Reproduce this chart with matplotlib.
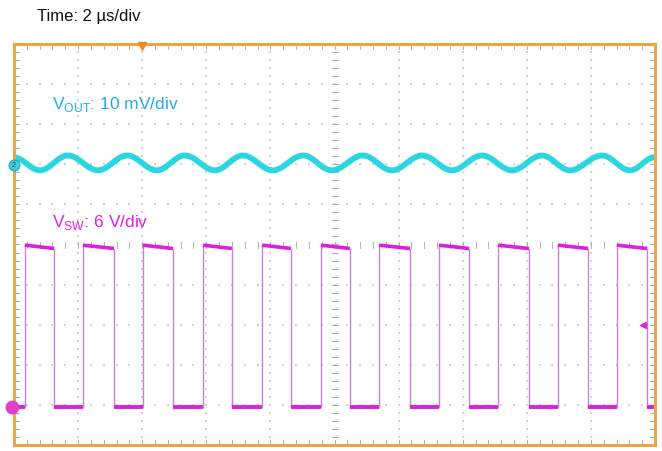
import numpy as np
import matplotlib.pyplot as plt

plt.rcParams['font.family'] = ['Liberation Sans', 'DejaVu Sans']
plt.rcParams['mathtext.fontset'] = 'custom'
plt.rcParams['mathtext.rm'] = 'Liberation Sans'

# scope settings (10 x 10 divisions)
us_per_div = 2.0
vout_mv_per_div = 10.0
vsw_v_per_div = 6.0
vout_ref_div = 1.98     # ch2 marker position
vsw_ref_div = -4.05     # ch1 marker position
trig_time_us = -6.0
trig_level_div = -2.0

# switch node edges (us)
rise_us = [-9.66, -7.85, -5.98, -4.10, -2.26, -0.42, 1.39, 3.26, 5.10, 6.97, 8.81]
fall_us = [-8.75, -6.88, -5.04, -3.20, -1.36, 0.48, 2.36, 4.20, 6.07, 7.91, 9.75]
vsw_high_start = 24.2   # V, start of on-time
vsw_high_end = 23.7     # V, end of on-time (droop)
vsw_low = 0.0

# output ripple peaks / troughs (us, mV about ch2 reference)
ripple_t = [-10.0, -9.19, -8.32, -7.38, -6.47, -5.54, -4.67, -3.73, -2.86, -1.92, -0.98,
            -0.08, 0.89, 1.79, 2.73, 3.67, 4.60, 5.54, 6.47, 7.35, 8.35, 9.22, 10.0]
ripple_mv = [1.9, -1.3, 2.4, -1.3, 2.4, -1.3, 2.4, -1.3, 2.4, -1.3, 2.4,
             -1.3, 2.4, -1.3, 2.4, -1.3, 2.4, -1.3, 2.4, -1.3, 2.4, -1.3, 2.0]

W, H = 662, 451
fig = plt.figure(figsize=(W / 100, H / 100), dpi=100)
ax = fig.add_axes([14 / W, 6 / H, 641 / W, 401 / H])
ax.set_xlim(-10, 10)
ax.set_ylim(-5, 5)
ax.set_xticks([])
ax.set_yticks([])
for s in ax.spines.values():
    s.set_color('#EBA646')
    s.set_linewidth(2.2)

px_x = 20 / 641   # data units per pixel
px_y = 10 / 401

# dotted graticule
minor_x = np.arange(-10, 10.01, 0.4)
minor_y = np.arange(-5, 5.01, 0.2)
for gx in np.arange(-8, 9, 2):
    if gx == 0:
        continue
    ax.scatter(np.full(len(minor_y), gx), minor_y, s=1.0, color='#D2D2D2', marker='s', lw=0)
for gy in np.arange(-4, 5, 1):
    if gy == 0:
        continue
    ax.scatter(minor_x, np.full(len(minor_x), gy), s=1.0, color='#D2D2D2', marker='s', lw=0)

# center cross ticks
tick_col = '#B0B0B0'
for yy in minor_y:
    ax.plot([-3 * px_x, 3 * px_x], [yy, yy], color=tick_col, lw=0.7)
for xx in minor_x:
    ax.plot([xx, xx], [-3 * px_y, 3 * px_y], color=tick_col, lw=0.7)
# border ticks
for xx in minor_x:
    ax.plot([xx, xx], [5, 5 - 5 * px_y], color=tick_col, lw=0.7)
    ax.plot([xx, xx], [-5, -5 + 5 * px_y], color=tick_col, lw=0.7)
for yy in minor_y:
    ax.plot([-10, -10 + 5 * px_x], [yy, yy], color=tick_col, lw=0.7)
    ax.plot([10, 10 - 5 * px_x], [yy, yy], color=tick_col, lw=0.7)

# switch node trace
def sw_div(v):
    return vsw_ref_div + v / vsw_v_per_div

sw_col = '#E01CE0'
edge_col = '#C97FDB'
lo = sw_div(vsw_low)
prev = -10.0
for r, f in zip(rise_us, fall_us):
    ax.plot([prev, r], [lo, lo], color=sw_col, lw=2.8, solid_capstyle='butt')
    ax.plot([r, r], [lo, sw_div(vsw_high_start)], color=edge_col, lw=1.0)
    ax.plot([r, f], [sw_div(vsw_high_start), sw_div(vsw_high_end)], color=sw_col, lw=2.6,
            solid_capstyle='butt')
    ax.plot([f, f], [sw_div(vsw_high_end), lo], color=edge_col, lw=1.0)
    prev = f
ax.plot([prev, 10], [lo, lo], color=sw_col, lw=2.8, solid_capstyle='butt')

# output ripple trace (half-cosine between read extrema)
tt, vv = [], []
for i in range(len(ripple_t) - 1):
    s = np.linspace(0, 1, 25)
    tt.extend(ripple_t[i] + (ripple_t[i + 1] - ripple_t[i]) * s)
    vv.extend(ripple_mv[i] + (ripple_mv[i + 1] - ripple_mv[i]) * (1 - np.cos(np.pi * s)) / 2)
tt = np.array(tt)
vv = vout_ref_div + np.array(vv) / vout_mv_per_div
ax.plot(tt, vv, color='#2AD6E0', lw=4.2, solid_joinstyle='round')

# channel markers
ax.plot(-10, vout_ref_div, 'o', ms=8, mfc='#3CCFE0', mec='#1A9AB0', mew=0.6, clip_on=False, zorder=5)
ax.text(-10, vout_ref_div, '2', fontsize=5, ha='center', va='center', color='#114455', zorder=6)
ax.plot(-10 - 2 * px_x, vsw_ref_div, 'o', ms=9, mfc='#E040C8', mec='#E040C8', clip_on=False, zorder=5)
ax.plot(trig_time_us, 5 - 2 * px_y, 'v', ms=6, color='#F08A20', clip_on=False, zorder=5)
ax.plot(10 - 12 * px_x, trig_level_div, '<', ms=4, color='#E020E0', zorder=5)

# labels
fig.text(37 / W, 1 - 17 / H, 'Time: 2 µs/div', fontsize=12, va='center', ha='left', color='#111111')
ax.text(-8.81, 3.50, r'V$_{\mathregular{OUT}}$: 10 mV/div', fontsize=12.5, color='#1FAEE6',
        va='center', ha='left')
ax.text(-8.81, 0.55, r'V$_{\mathregular{SW}}$: 6 V/div', fontsize=12.5, color='#E81CE8',
        va='center', ha='left')

fig.savefig('out.png', dpi=100)
